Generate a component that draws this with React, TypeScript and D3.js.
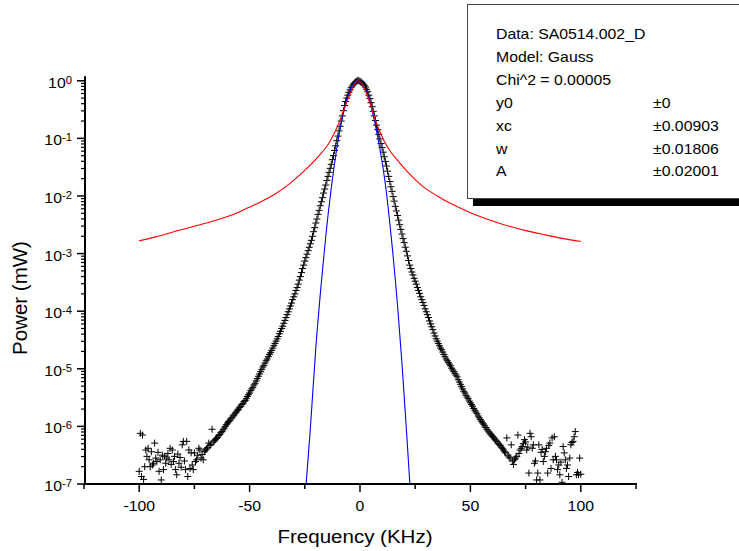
import React from "react";
import * as d3 from "d3";

const width = 739;
const height = 551;

// plot box in pixels
const plot = { left: 84, right: 636, top: 76.2, bottom: 484 };

// measured spectrum: 401 points from -100 to 100 KHz, 0.5 KHz apart, values are log10(P / mW)
const freqStart = -100;
const freqStep = 0.5;
const powerLog = [
  -6.78, -6.12, -6.87, -6.15, -6.92, -6.70, -6.41, -6.52, -6.38, -6.58, // -100
  -6.70, -6.44, -6.67, -6.64, -6.29, -6.55, -6.61, -6.45, -6.78, -6.58, // -95
  -6.93, -6.50, -6.75, -6.52, -6.64, -6.55, -6.47, -6.58, -6.38, -6.66, // -90
  -6.41, -6.61, -6.52, -6.75, -6.84, -6.48, -6.64, -6.54, -6.71, -6.32, // -85
  -6.26, -6.60, -6.75, -6.26, -6.87, -6.41, -6.73, -6.46, -6.67, -6.75, // -80
  -6.46, -6.61, -6.58, -6.50, -6.38, -6.41, -6.55, -6.49, -6.58, -6.44, // -75
  -6.41, -6.39, -6.37, -6.29, -6.33, -6.31, -6.05, -6.27, -6.25, -6.23, // -70
  -6.21, -6.19, -6.16, -6.14, -6.11, -6.09, -6.06, -6.03, -6.00, -5.97, // -65
  -5.94, -5.92, -5.90, -5.87, -5.85, -5.82, -5.80, -5.77, -5.75, -5.72, // -60
  -5.70, -5.67, -5.65, -5.62, -5.60, -5.57, -5.55, -5.52, -5.48, -5.45, // -55
  -5.42, -5.38, -5.35, -5.32, -5.28, -5.25, -5.21, -5.17, -5.13, -5.09, // -50
  -5.05, -5.01, -4.97, -4.94, -4.90, -4.86, -4.83, -4.79, -4.75, -4.72, // -45
  -4.68, -4.64, -4.60, -4.56, -4.52, -4.48, -4.44, -4.39, -4.35, -4.30, // -40
  -4.26, -4.21, -4.16, -4.11, -4.06, -4.01, -3.96, -3.91, -3.86, -3.80, // -35
  -3.75, -3.70, -3.64, -3.59, -3.53, -3.46, -3.40, -3.33, -3.26, -3.20, // -30
  -3.13, -3.07, -3.01, -2.95, -2.89, -2.83, -2.77, -2.70, -2.62, -2.55, // -25
  -2.47, -2.40, -2.32, -2.25, -2.17, -2.10, -2.03, -1.95, -1.88, -1.81, // -20
  -1.73, -1.66, -1.59, -1.52, -1.45, -1.37, -1.30, -1.21, -1.13, -1.04, // -15
  -0.96, -0.87, -0.79, -0.70, -0.61, -0.52, -0.43, -0.36, -0.30, -0.25, // -10
  -0.20, -0.16, -0.12, -0.09, -0.06, -0.04, -0.02, -0.01, 0.01, 0.0, // -5
  -0.01, -0.02, -0.04, -0.06, -0.08, -0.11, -0.15, -0.19, -0.25, -0.31, // 0
  -0.38, -0.45, -0.53, -0.61, -0.69, -0.77, -0.85, -0.93, -1.01, -1.09, // 5
  -1.16, -1.24, -1.32, -1.40, -1.48, -1.57, -1.66, -1.75, -1.84, -1.92, // 10
  -2.01, -2.09, -2.18, -2.26, -2.34, -2.42, -2.50, -2.58, -2.66, -2.74, // 15
  -2.81, -2.89, -2.96, -3.04, -3.12, -3.20, -3.26, -3.32, -3.37, -3.43, // 20
  -3.48, -3.53, -3.59, -3.64, -3.69, -3.75, -3.80, -3.85, -3.90, -3.96, // 25
  -4.01, -4.06, -4.11, -4.17, -4.22, -4.27, -4.32, -4.38, -4.43, -4.48, // 30
  -4.52, -4.56, -4.60, -4.64, -4.67, -4.71, -4.75, -4.79, -4.83, -4.86, // 35
  -4.89, -4.92, -4.95, -4.99, -5.02, -5.05, -5.08, -5.11, -5.14, -5.19, // 40
  -5.23, -5.27, -5.31, -5.35, -5.39, -5.42, -5.46, -5.49, -5.52, -5.56, // 45
  -5.59, -5.62, -5.65, -5.69, -5.72, -5.75, -5.78, -5.82, -5.85, -5.88, // 50
  -5.91, -5.94, -5.96, -5.99, -6.02, -6.05, -6.08, -6.10, -6.13, -6.15, // 55
  -6.17, -6.19, -6.22, -6.24, -6.26, -6.29, -6.31, -6.33, -6.36, -6.38, // 60
  -6.41, -6.44, -6.46, -6.20, -6.50, -6.53, -6.55, -6.32, -6.60, -6.66, // 65
  -6.58, -6.55, -6.52, -6.15, -6.47, -6.41, -6.38, -6.35, -6.30, -6.23, // 70
  -6.27, -6.41, -6.36, -6.81, -6.12, -6.18, -6.38, -6.32, -6.64, -6.60, // 75
  -6.93, -6.81, -6.32, -6.93, -6.45, -6.40, -6.61, -6.52, -6.44, -6.38, // 80
  -6.81, -6.33, -6.29, -6.73, -6.20, -6.58, -6.18, -6.52, -6.58, -6.75, // 85
  -6.67, -6.84, -6.62, -6.97, -6.35, -6.46, -6.58, -6.73, -6.67, -6.87, // 90
  -6.55, -6.32, -6.28, -6.26, -6.18, -6.09, -6.84, -6.80, -6.84, -6.55, // 95
  -6.83, // 100
];

// red fit curve, log10 power
const redFreq = [
  -100, -92.5, -85, -72.5, -63.5, -56, -51, -47, -39, -32, -26, -19, -14, -11, -8, -6,
  -4.5, -3, -2, -1, 0, 1, 2, 3.5, 5, 6.5, 8.5, 11, 14, 17, 22, 28, 35, 42, 50, 59, 68,
  76, 84.5, 92, 100,
];
const redLog = [
  -2.78, -2.71, -2.63, -2.5, -2.4, -2.3, -2.21, -2.14, -1.98, -1.79, -1.59, -1.32, -1.08,
  -0.86, -0.58, -0.37, -0.23, -0.1, -0.03, 0.0, -0.02, -0.06, -0.13, -0.28, -0.45, -0.63,
  -0.84, -1.05, -1.24, -1.38, -1.6, -1.82, -2.0, -2.15, -2.29, -2.42, -2.53, -2.61, -2.68,
  -2.74, -2.79,
];

// blue Gauss fit curve, log10 power
const blueFreq = [
  -24.4, -22.6, -20, -17.5, -15.5, -13, -10, -8, -6, -4, -2, -0.9, 0.5, 2.5, 4.5, 6.8, 9,
  11.5, 14.3, 17, 19, 21, 22.6,
];
const blueLog = [
  -7.0, -6.1, -4.63, -3.5, -2.7, -1.86, -1.05, -0.64, -0.33, -0.12, -0.02, 0.0, -0.03,
  -0.15, -0.37, -0.74, -1.18, -1.8, -2.77, -3.9, -4.9, -6.05, -7.0,
];

const xMajorTicks = [-100, -50, 0, 50, 100];
const xMinorTicks = [-125, -75, -25, 25, 75, 125];
const yExponents = [0, -1, -2, -3, -4, -5, -6, -7];

const fitRows = [
  ["Data: SA0514.002_D", ""],
  ["Model: Gauss", ""],
  ["Chi^2 = 0.00005", ""],
  ["y0", "\u00b10"],
  ["xc", "\u00b10.00903"],
  ["w", "\u00b10.01806"],
  ["A", "\u00b10.02001"],
];

const font = "'Liberation Sans', Arial, sans-serif";
const SX = 1.13; // text in the picture is a bit wider than Arial

function SText({ x, y, size, anchor = "start", children }: any) {
  return (
    <text
      transform={`translate(${x},${y}) scale(${SX},1)`}
      fontSize={size}
      textAnchor={anchor}
      fill="#000"
    >
      {children}
    </text>
  );
}

export default function App() {
  const x = d3.scaleLinear().domain([-125, 125]).range([plot.left, plot.right]);
  const y = d3.scaleLog().domain([1e-7, 1.2]).range([plot.bottom, plot.top]);

  const yMinor = y.ticks().filter((t) => Math.abs(Math.log10(t) - Math.round(Math.log10(t))) > 1e-6);

  // cross markers
  const crosses = powerLog
    .map((v, i) => {
      const px = x(freqStart + i * freqStep);
      const py = y(Math.pow(10, v));
      return `M${px - 3.5},${py}h7M${px},${py - 3.5}v7`;
    })
    .join("");

  const fitLine = d3
    .line<[number, number]>()
    .x((d) => x(d[0]))
    .y((d) => y(Math.pow(10, d[1])))
    .curve(d3.curveMonotoneX);

  const redPath = fitLine(redFreq.map((f, i) => [f, redLog[i]] as [number, number]));
  const bluePath = fitLine(blueFreq.map((f, i) => [f, blueLog[i]] as [number, number]));

  return (
    <svg
      width={width}
      height={height}
      style={{ position: "absolute", left: 0, top: 0, display: "block", background: "#fff" }}
      fontFamily={font}
    >
      <defs>
        <clipPath id="plotClip">
          <rect x={plot.left} y={plot.top - 5} width={plot.right - plot.left} height={plot.bottom - plot.top + 5} />
        </clipPath>
      </defs>
      <rect width={width} height={height} fill="#fff" />

      {/* data and fits */}
      <g clipPath="url(#plotClip)">
        <path d={crosses} stroke="#000" strokeWidth={1} fill="none" />
        <path d={bluePath || ""} stroke="#0000ff" strokeWidth={1.1} fill="none" />
        <path d={redPath || ""} stroke="#ff0000" strokeWidth={1.1} fill="none" />
      </g>

      {/* y axis */}
      <g stroke="#000">
        <line x1={plot.left + 1} x2={plot.left + 1} y1={plot.top} y2={plot.bottom + 1} strokeWidth={2} />
        {yExponents.map((e) => (
          <line key={e} x1={plot.left - 7} x2={plot.left} y1={y(Math.pow(10, e))} y2={y(Math.pow(10, e))} strokeWidth={1.5} />
        ))}
        {yMinor.map((t, i) => (
          <line key={i} x1={plot.left - 3} x2={plot.left} y1={y(t)} y2={y(t)} strokeWidth={1.2} />
        ))}
      </g>
      {yExponents.map((e) => (
        <SText key={e} x={72} y={y(Math.pow(10, e)) + 7} size={14} anchor="end">
          10
          <tspan dy={-4} fontSize={10}>
            {String(e)}
          </tspan>
        </SText>
      ))}

      {/* x axis */}
      <g stroke="#000">
        <line x1={plot.left} x2={plot.right + 1} y1={plot.bottom} y2={plot.bottom} strokeWidth={2} />
        {xMajorTicks.map((t) => (
          <line key={t} x1={x(t)} x2={x(t)} y1={plot.bottom} y2={plot.bottom + 8} strokeWidth={1.5} />
        ))}
        {xMinorTicks.map((t) => (
          <line key={t} x1={x(t)} x2={x(t)} y1={plot.bottom} y2={plot.bottom + 5} strokeWidth={1.5} />
        ))}
      </g>
      {xMajorTicks.map((t) => (
        <SText key={t} x={x(t)} y={511} size={14} anchor="middle">
          {String(t)}
        </SText>
      ))}

      {/* axis titles */}
      <text
        transform={`translate(355,543) scale(1.08,1)`}
        fontSize={19}
        textAnchor="middle"
      >
        Frequency (KHz)
      </text>
      <text transform="translate(27,298) rotate(-90)" fontSize={20.5} textAnchor="middle">
        Power (mW)
      </text>

      {/* fit parameter box */}
      <rect x={473} y={10} width={300} height={196} fill="#000" />
      <rect x={467.5} y={4.5} width={300} height={194} fill="#fff" stroke="#444" strokeWidth={1} />
      {fitRows.map((r, i) => (
        <g key={i}>
          <SText x={496} y={39 + i * 22.9} size={14}>
            {r[0]}
          </SText>
          {r[1] && (
            <SText x={653} y={39 + i * 22.9} size={14}>
              {r[1]}
            </SText>
          )}
        </g>
      ))}
    </svg>
  );
}
